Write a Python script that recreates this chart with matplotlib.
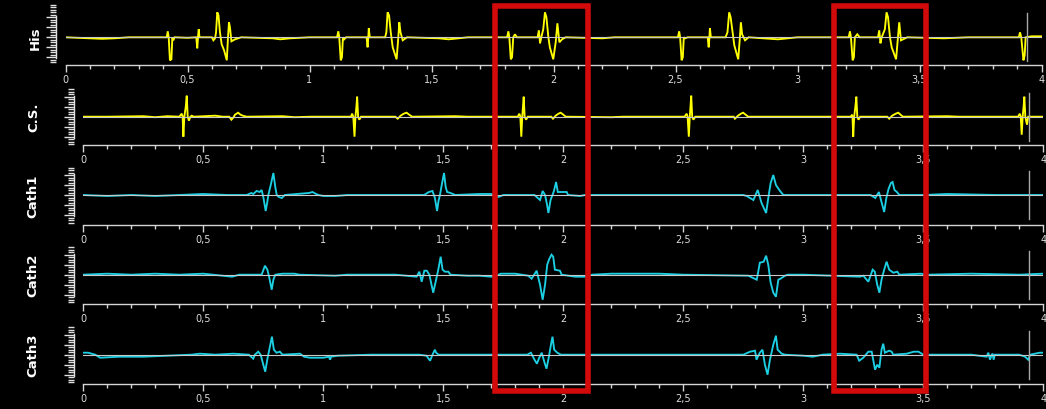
import matplotlib
matplotlib.use('Agg')
import matplotlib.pyplot as plt
from matplotlib.ticker import MultipleLocator, FuncFormatter
from matplotlib.patches import Rectangle

# ---------------- data (time in s, amplitude in arbitrary units) ----------------
his_t = [0.00, 0.05, 0.09, 0.15, 0.20, 0.26, 0.40, 0.415, 0.419, 0.423, 0.428, 0.434, 0.438, 0.442, 0.447,
         0.50, 0.536, 0.540, 0.543, 0.546, 0.549, 0.60, 0.606, 0.613, 0.617, 0.622, 0.627, 0.633, 0.640,
         0.650, 0.661, 0.666, 0.670, 0.674, 0.680, 0.695, 0.72, 0.85, 0.88, 0.92, 1.00,
         1.113, 1.118, 1.122, 1.128, 1.133, 1.137, 1.142, 1.15, 1.234, 1.238, 1.241, 1.243, 1.247,
         1.31, 1.315, 1.320, 1.326, 1.333, 1.341, 1.357, 1.364, 1.368, 1.373, 1.382, 1.40,
         1.53, 1.57, 1.61, 1.65, 1.81, 1.815, 1.819, 1.825, 1.830, 1.835, 1.842, 1.85,
         1.935, 1.940, 1.945, 1.950, 1.958, 1.965, 1.971, 1.979, 1.985, 1.999, 2.009, 2.016, 2.024, 2.035, 2.05,
         2.20, 2.25, 2.51, 2.515, 2.519, 2.525, 2.530, 2.534, 2.54, 2.55,
         2.632, 2.636, 2.639, 2.641, 2.645, 2.705, 2.713, 2.720, 2.726, 2.734, 2.741, 2.757, 2.764, 2.768,
         2.773, 2.785, 2.80, 2.86, 2.92, 2.96, 3.00,
         3.21, 3.215, 3.219, 3.226, 3.231, 3.235, 3.245, 3.255, 3.330, 3.335, 3.340, 3.345,
         3.358, 3.365, 3.371, 3.379, 3.386, 3.404, 3.412, 3.417, 3.424, 3.45, 3.60, 3.70,
         3.907, 3.912, 3.917, 3.926, 3.931, 3.935, 3.96, 4.00]
his_v = [0, -0.5, -1, -1.5, -1, 0, 0, 0, 6, 0, -23, -22, 0, -3, 0,
         -0.5, 0, -11, 0, 8, 0, 0, -3, -1, 5, 25, 22, 5, -7,
         -13, -23, 0, 15, 10, -4, -2, 0, -1, -2, -1, 0,
         0, 6, 0, -23, -20, 0, -2, 0, 0, -10, 0, 9, 0,
         0, 5, 25, 22, 5, -10, -22, 0, 15, 5, -3, 0,
         -1, -2, -1, 0, 0, 6, 0, -22, -20, 0, 3, 0,
         0, 7, -6, 0, 8, 25, 20, 0, -10, -22, -5, 14, -5, -2, 0,
         -1, 0, 0, 6, 0, -23, -20, 0, -1, 0,
         0, -10, 0, 9, 0, 0, 5, 25, 20, 5, -8, -22, 0, 15,
         3, -3, 0, -1, -2, -1, 0,
         0, 6, 0, -23, -20, 0, 3, 0, 0, 7, -6, 0,
         8, 25, 20, 0, -10, -22, 0, 15, -3, 0, -1, 0,
         0, 5, 0, -23, -18, 0, 1, 1]

cs_t = [0.00, 0.10, 0.25, 0.30, 0.35, 0.40, 0.410, 0.414, 0.417, 0.421, 0.427, 0.431, 0.435, 0.440, 0.446,
        0.452, 0.46, 0.55, 0.58, 0.608, 0.617, 0.625, 0.632, 0.645, 0.655, 0.665, 0.68, 0.83, 0.88, 0.95,
        1.115, 1.120, 1.125, 1.130, 1.134, 1.138, 1.141, 1.145, 1.150, 1.157, 1.30, 1.310, 1.322, 1.335,
        1.347, 1.358, 1.37, 1.55, 1.60, 1.81, 1.817, 1.821, 1.825, 1.829, 1.832, 1.835, 1.839, 1.845, 1.852,
        1.95, 1.957, 1.968, 1.98, 1.989, 2.00, 2.01, 2.20, 2.25, 2.505, 2.514, 2.518, 2.523, 2.527, 2.530,
        2.533, 2.537, 2.542, 2.55, 2.71, 2.715, 2.728, 2.74, 2.749, 2.76, 2.77, 3.198, 3.203, 3.205,
        3.208, 3.212, 3.217, 3.221, 3.225, 3.230, 3.237, 3.35, 3.358, 3.37, 3.385, 3.396, 3.405, 3.415,
        3.60, 3.65, 3.895, 3.902, 3.906, 3.910, 3.914, 3.918, 3.921, 3.925, 3.932, 3.937, 4.00]
cs_v = [0, 0, 0.5, -0.5, 0.5, 0, 3, 0, -20, 0, 10, 21, 0, -4, 0,
        1, 0, 1, 0, 0, -3, -1, 2, 4, 2, 1, 0, 0.5, -0.5, 0,
        0, 3, 0, -20, 0, 10, 20, 0, -3, 0, 0, -2, 1, 3,
        4, 2, 0, 0.5, 0, 0, 3, 0, -20, 0, 10, 20, 0, -3, 0,
        0, -2, 1, 3, 4, 2, 0, -0.5, 0, 0, 3, 0, -20, 0, 10,
        21, 0, -3, 0, 0, -2, 1, 3, 4, 2, 0, 0, 2, 0,
        -20, 0, 10, 20, 0, -3, 0, 0, -2, 1, 3, 4, 2, 0,
        0.5, 0, 0, 3, 0, -18, 0, 10, 20, 0, -8, 0, 0]

cath1_t = [0.00, 0.10, 0.20, 0.30, 0.40, 0.50, 0.60, 0.681, 0.700, 0.708, 0.722, 0.735, 0.743, 0.750,
           0.760, 0.766, 0.771, 0.781, 0.792, 0.800, 0.806, 0.815, 0.827, 0.84, 0.94, 0.955, 0.97, 0.98,
           1.00, 1.05, 1.10, 1.42, 1.44, 1.455, 1.465, 1.474, 1.480, 1.486, 1.495, 1.503, 1.510, 1.516,
           1.53, 1.55, 1.65, 1.70, 1.73, 1.75, 1.88, 1.889, 1.903, 1.914, 1.924, 1.931, 1.938, 1.947,
           1.955, 1.961, 1.970, 1.977, 1.986, 2.000, 2.014, 2.02, 2.07, 2.09, 2.75, 2.764, 2.792, 2.810,
           2.826, 2.845, 2.856, 2.864, 2.875, 2.886, 2.903, 2.917, 3.28, 3.30, 3.315, 3.327, 3.337, 3.346,
           3.355, 3.365, 3.372, 3.38, 3.39, 3.40, 3.50, 3.60, 3.80, 4.00]
cath1_v = [0, -1, 0, -1, 0, 1, 0, 0, 2, 1, 4, 3, 5, -2,
           -16, -8, 0, 10, 22, 8, 0, -2, -3, 0, 2, 3, 1, 0,
           -1, -1, 0, 0, 3, 4, -3, -16, -6, 0, 12, 22, 8, 3,
           2, 0, 1, 1, -2, 0, 0, -2, -5, 4, 0, -8, -18, -5,
           0, 4, 13, 3, 3, 3, 3, 0, -1, 0, 0, -1, -5, 5,
           -8, -18, 0, 12, 20, 10, 4, 0, 0, -3, 3, -8, -17, -3,
           6, 12, 13, 5, 3, 0, 0, 1, 0, 0]

cath2_t = [0.00, 0.10, 0.20, 0.30, 0.40, 0.50, 0.62, 0.65, 0.743, 0.757, 0.767, 0.775, 0.785, 0.792,
           0.80, 0.83, 0.88, 0.90, 1.05, 1.10, 1.30, 1.389, 1.400, 1.410, 1.421, 1.431, 1.442, 1.458,
           1.470, 1.479, 1.489, 1.497, 1.507, 1.521, 1.53, 1.60, 1.65, 1.70, 1.72, 1.74, 1.80, 1.854,
           1.868, 1.889, 1.903, 1.914, 1.924, 1.933, 1.942, 1.951, 1.958, 1.965, 1.986, 1.993, 2.05, 2.09,
           2.12, 2.20, 2.40, 2.50, 2.771, 2.806, 2.819, 2.835, 2.845, 2.854, 2.864, 2.875, 2.886, 2.896,
           2.905, 2.924, 2.935, 3.00, 3.236, 3.250, 3.271, 3.289, 3.298, 3.308, 3.317, 3.326, 3.337,
           3.347, 3.358, 3.375, 3.392, 3.40, 3.49, 3.52, 3.70, 3.90, 4.00]
cath2_v = [0, 1, 0, 1, 0, 1, -2, 0, 0, 9, 5, -3, -15, -5,
           0, 1, 1, 0, -1, 0, 0, -2, 3, -7, 4, 4, 0, -18,
           -5, 5, 18, 5, 3, 3, 0, -1, -1, -2, -1, 1, 1, -1,
           -4, 4, -10, -25, -10, 10, 16, 20, 18, 5, 4, 0, -2, -2,
           0, 1, 1, 0, -1, -5, 12, 13, 19, 10, -8, -18, -22, -5,
           -4, -1, 0, 0, -2, -1, -7, 5, 3, -10, -18, -5, 5,
           13, 5, 2, 3, 0, 1, 0, 1, 0, 1]

cath3_t = [0.00, 0.02, 0.05, 0.07, 0.15, 0.25, 0.35, 0.45, 0.486, 0.55, 0.625, 0.69, 0.708, 0.715,
           0.729, 0.739, 0.750, 0.758, 0.768, 0.775, 0.786, 0.794, 0.805, 0.819, 0.83, 0.903, 0.92, 0.944,
           1.00, 1.024, 1.028, 1.033, 1.06, 1.20, 1.40, 1.43, 1.445, 1.455, 1.465, 1.47, 1.48, 1.85,
           1.865, 1.88, 1.89, 1.90, 1.91, 1.922, 1.93, 1.94, 1.95, 1.955, 1.962, 1.975, 1.99, 2.75,
           2.778, 2.799, 2.805, 2.819, 2.830, 2.840, 2.851, 2.861, 2.875, 2.886, 2.893, 2.910, 2.924, 3.00,
           3.04, 3.08, 3.153, 3.222, 3.233, 3.250, 3.271, 3.285, 3.299, 3.308, 3.317, 3.326, 3.333, 3.340,
           3.358, 3.368, 3.375, 3.431, 3.46, 3.48, 3.50, 3.70, 3.764, 3.771, 3.778, 3.785, 3.789, 3.793,
           3.798, 3.90, 3.924, 3.937, 3.945, 3.985, 4.00]
cath3_v = [2, 2, 0, -3, -2, -2, -1, 0, 1, 0, 1, 0, -4, 0,
           3, 0, -10, -17, -3, 5, 18, 5, 2, 3, 0, 1, -2, -3,
           -3, -2, -5, -2, -1, 0, 0, -1, -6, 0, 5, 2, 0, 0,
           2, -5, -9, -3, 2, -8, -14, -2, 12, 18, 5, 2, 0, 0,
           3, 4, -5, 2, 5, -10, -20, -5, 10, 19, 5, 1, 0, -1,
           -2, 0, 1, 0, -6, -3, 3, 3, -15, -10, -13, 5, 11, 2,
           4, 3, 0, 1, 3, 3, 0, 0, -2, 2, -5, 0, 1, -5,
           0, 0, -2, -5, 0, 2, 2]

channel_names = ["His", "C.S.", "Cath1", "Cath2", "Cath3"]
channel_times = [his_t, cs_t, cath1_t, cath2_t, cath3_t]
channel_values = [his_v, cs_v, cath1_v, cath2_v, cath3_v]
x_ticks = [0, 0.5, 1, 1.5, 2, 2.5, 3, 3.5, 4]
highlight_windows = [(1.7175, 2.103), (3.128, 3.511)]
cursor_time = 3.94

# ---------------- layout (pixels) ----------------
W, H = 1046, 410
YELLOW = "#ffff00"
CYAN = "#1ccfe2"
colors = [YELLOW, YELLOW, CYAN, CYAN, CYAN]
# (left, right, baseline, axisline, top, label_x)
geom = [(65.5, 1041.5, 38.3, 65.7, 4, 35),
        (83.3, 1043.3, 117.7, 145.7, 88, 34),
        (83.3, 1043.3, 196.0, 225.7, 168, 33),
        (83.3, 1043.3, 275.7, 305.0, 248, 33),
        (83.3, 1043.3, 355.7, 384.5, 328, 33)]

fig = plt.figure(figsize=(W / 100, H / 100), dpi=100, facecolor="black")
fmt = FuncFormatter(lambda x, p: ("%g" % x).replace(".", ","))
axes = []
for name, t, v, col, g in zip(channel_names, channel_times, channel_values, colors, geom):
    left, right, base, axline, top, lab_x = g
    ax = fig.add_axes([left / W, 1 - axline / H, (right - left) / W, (axline - top) / H])
    ax.set_facecolor("none")
    ax.set_xlim(0, 4)
    ax.set_ylim(-(axline - base), base - top)
    ax.axhline(0, color="#c8c8c8", lw=0.8, zorder=3)
    ax.plot(t, v, color=col, lw=1.35, zorder=2, solid_joinstyle="miter")
    ax.plot([cursor_time, cursor_time], [-24, 24], color="#a8a8a8", lw=1.0, zorder=4)
    for s in ["top", "right"]:
        ax.spines[s].set_visible(False)
    ax.spines["bottom"].set_color("#d4d4d4")
    ax.spines["bottom"].set_linewidth(1.0)
    ax.spines["left"].set_color("#e0e0e0")
    ax.spines["left"].set_linewidth(1.0)
    ax.spines["left"].set_position(("outward", 7))
    ax.spines["left"].set_bounds(-21, 21)
    ax.set_xticks(x_ticks)
    ax.xaxis.set_major_formatter(fmt)
    ax.xaxis.set_minor_locator(MultipleLocator(0.1))
    ax.tick_params(axis="x", which="major", direction="out", length=5, width=1, color="#d4d4d4",
                   labelcolor="#dcdcdc", labelsize=7, pad=1.5)
    ax.tick_params(axis="x", which="minor", direction="out", length=3, width=1, color="#d4d4d4")
    ax.set_yticks([-20, -10, 0, 10, 20])
    ax.yaxis.set_minor_locator(MultipleLocator(2.5))
    ax.set_yticklabels([])
    ax.tick_params(axis="y", which="major", direction="out", length=7, width=1, color="#e0e0e0")
    ax.tick_params(axis="y", which="minor", direction="out", length=4, width=1, color="#e0e0e0")
    fig.text(lab_x / W, 1 - base / H, name, rotation=90, ha="center", va="center",
             color="white", fontsize=9.5, fontweight="bold")
    axes.append(ax)

# highlight boxes (time window mapped through the Cath axes)
ref_ax = axes[2]
fig.canvas.draw()
for t0, t1 in highlight_windows:
    x0 = fig.transFigure.inverted().transform(ref_ax.transData.transform((t0, 0)))[0]
    x1 = fig.transFigure.inverted().transform(ref_ax.transData.transform((t1, 0)))[0]
    y_top = 1 - 6.5 / H
    y_bot = 1 - 392 / H
    fig.patches.append(Rectangle((x0, y_bot), x1 - x0, y_top - y_bot, transform=fig.transFigure,
                                 fill=False, edgecolor="#d20a0a", lw=4, joinstyle="miter", zorder=10))

fig.savefig("out.png", dpi=100, facecolor="black")
